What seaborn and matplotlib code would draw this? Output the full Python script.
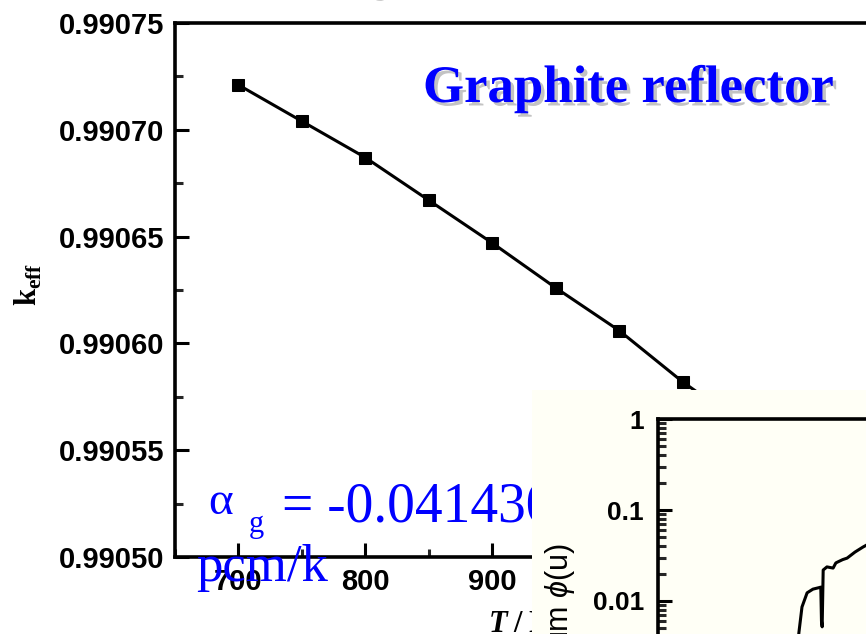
import numpy as np
import pandas as pd
import matplotlib
matplotlib.use('Agg')
import matplotlib.pyplot as plt
import matplotlib.patheffects as pe
from matplotlib.ticker import MultipleLocator, LogLocator, NullFormatter
import seaborn as sns

# ---------------- data ----------------
temperature = [700, 750, 800, 850, 900, 950, 1000, 1050, 1100]
keff = [0.990721, 0.990704, 0.990687, 0.990667, 0.990647,
        0.990626, 0.990606, 0.990582, 0.990561]
x_ticks = [700, 800, 900, 1000, 1100, 1200]
x_tick_labels = ['700', '800', '900', '1000', '1100', '1200']
y_ticks = [0.99050, 0.99055, 0.99060, 0.99065, 0.99070, 0.99075]
y_tick_labels = ['0.99050', '0.99055', '0.99060', '0.99065', '0.99070', '0.99075']

# inset spectrum (lethargy u, arbitrary units)
spec_u = [4.08, 4.12, 4.21, 4.36, 4.53, 4.70, 4.76, 4.78, 4.80, 4.83,
          4.94, 5.12, 5.20, 5.26, 5.40, 5.53, 5.76, 5.99, 6.11, 6.40]
spec_phi = [0.0030, 0.0045, 0.0086, 0.0123, 0.0135, 0.0140, 0.0142, 0.0060,
            0.0052, 0.0219, 0.0237, 0.0230, 0.0262, 0.0269, 0.0285, 0.0296,
            0.0345, 0.0391, 0.0414, 0.0460]
inset_ticks = [1e-4, 1e-3, 0.01, 0.1, 1]
inset_tick_labels = ['1E-4', '1E-3', '0.01', '0.1', '1']

# ---------------- style ----------------
sns.set_theme(style='ticks')
plt.rcParams['font.family'] = ['Liberation Sans', 'DejaVu Sans']
plt.rcParams['mathtext.fontset'] = 'custom'
plt.rcParams['mathtext.bf'] = 'Liberation Serif:bold'
plt.rcParams['mathtext.rm'] = 'Liberation Sans'
plt.rcParams['mathtext.it'] = 'Liberation Sans:italic'

W, H = 866, 634
fig = plt.figure(figsize=(W / 100, H / 100), dpi=100)
fig.patch.set_facecolor('white')


def at(px, py):
    return (px / W, 1 - py / H)


def box(l, t, r, b):
    return [l / W, 1 - b / H, (r - l) / W, (b - t) / H]


BLUE = '#0000FF'

# ---------------- main axes ----------------
ax = fig.add_axes(box(175, 23, 873, 557))
ax.set_facecolor('white')
sns.lineplot(x=temperature, y=keff, ax=ax, color='black', lw=2.2,
             marker='s', markersize=8, markeredgecolor='black',
             markerfacecolor='black', estimator=None)
ax.set_xlim(650, 1200)
ax.set_ylim(0.99050, 0.99075)
ax.set_xticks(x_ticks)
ax.set_xticklabels(x_tick_labels)
ax.set_yticks(y_ticks)
ax.set_yticklabels(y_tick_labels)
ax.xaxis.set_minor_locator(MultipleLocator(50))
ax.yaxis.set_minor_locator(MultipleLocator(0.000025))
ax.tick_params(which='major', direction='in', length=10, width=2.2,
               labelsize=21, pad=8, colors='black', top=False, right=False)
ax.tick_params(which='minor', direction='in', length=6, width=2.2,
               top=False, right=False)
for lbl in ax.get_xticklabels() + ax.get_yticklabels():
    lbl.set_fontweight('bold')
for s in ax.spines.values():
    s.set_linewidth(2.6)
    s.set_color('black')
ax.set_xlabel('')
ax.set_ylabel('')

# annotations inside the main axes (covered by inset)
tf = fig.transFigure
shadow = [pe.withSimplePatchShadow(offset=(2.5, -2.5),
                                   shadow_rgbFace='#888888', alpha=0.5)]
ax.text(*at(423, 102), 'Graphite reflector', transform=tf, ha='left',
        va='baseline', fontsize=38, fontweight='bold', family='Liberation Serif',
        color=BLUE, path_effects=shadow)
ax.text(*at(398, -14), 'Reactivity', transform=tf, ha='right', va='baseline',
        fontsize=38, fontweight='bold', family='Liberation Serif', color=BLUE,
        path_effects=shadow)
ax.text(*at(208, 514), 'α', transform=tf, ha='left', va='baseline',
        fontsize=34, family='Liberation Serif', color=BLUE)
ax.text(*at(249, 532), 'g', transform=tf, ha='left', va='baseline',
        fontsize=22, family='Liberation Serif', color=BLUE)
ax.text(*at(282, 521), '= -0.041430', transform=tf, ha='left', va='baseline',
        fontsize=40, family='Liberation Serif', color=BLUE)
ax.text(*at(196, 581), 'pcm/k', transform=tf, ha='left', va='baseline',
        fontsize=38, family='Liberation Serif', color=BLUE)
ax.text(*at(489, 632), 'T', transform=tf, ha='left', va='baseline',
        fontsize=22, family='Liberation Serif', fontweight='bold',
        fontstyle='italic', color='black')
ax.text(*at(513, 632), '/ K', transform=tf, ha='left', va='baseline',
        fontsize=22, family='Liberation Serif', fontweight='bold', color='black')

fig.text(*at(28, 284), r'$\mathbf{k}_{\mathbf{eff}}$', rotation=90,
         ha='center', va='center', fontsize=22, color='black')

# ---------------- inset ----------------
BEIGE = '#FFFFF6'
ax_bg = fig.add_axes(box(532, 390, 866, 634))
ax_bg.set_facecolor(BEIGE)
ax_bg.set_xticks([])
ax_bg.set_yticks([])
for s in ax_bg.spines.values():
    s.set_visible(False)

ins = fig.add_axes(box(658, 419, 1000, 783))
ins.set_facecolor(BEIGE)
sns.lineplot(x=spec_u, y=spec_phi, ax=ins, color='black', lw=2.2,
             estimator=None, sort=False)
ins.set_yscale('log')
ins.set_ylim(1e-4, 1)
ins.set_xlim(0, 10)
ins.set_yticks(inset_ticks)
ins.set_yticklabels(inset_tick_labels)
ins.yaxis.set_minor_locator(LogLocator(base=10, subs=np.arange(2, 10)))
ins.yaxis.set_minor_formatter(NullFormatter())
ins.tick_params(which='major', direction='in', length=10, width=2.2,
                labelsize=19, pad=10, colors='black', top=False, right=False)
ins.tick_params(which='minor', direction='in', length=6, width=2.2,
                top=False, right=False)
for lbl in ins.get_yticklabels() + ins.get_xticklabels():
    lbl.set_fontweight('bold')
for s in ins.spines.values():
    s.set_linewidth(2.6)
    s.set_color('black')
ins.set_xlabel('')
ins.set_ylabel('')
fig.text(*at(560, 543), r'Neutron spectrum $\phi$(u)', rotation=90,
         ha='center', va='top', fontsize=22, color='black')

fig.savefig('out.png', dpi=100, facecolor='white')
